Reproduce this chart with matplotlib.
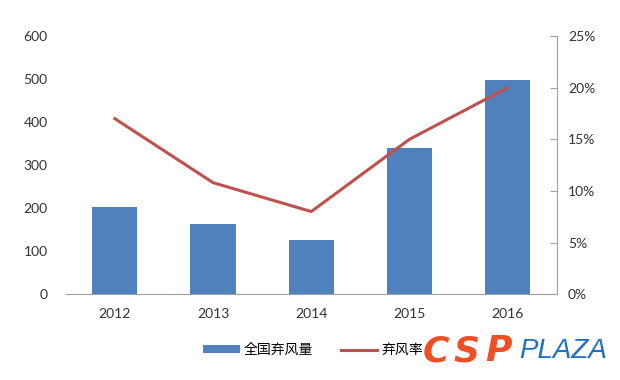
import matplotlib
matplotlib.use('Agg')
import matplotlib.pyplot as plt
from matplotlib.ticker import PercentFormatter

plt.rcParams['font.family'] = ['Lato', 'Noto Sans CJK SC', 'DejaVu Sans']

years = ['2012', '2013', '2014', '2015', '2016']
curtailment = [202, 163, 126, 340, 498]          # 全国弃风量
curtailment_rate = [17.0, 10.8, 8.0, 15.0, 20.0]  # 弃风率 (%)

fig = plt.figure(figsize=(6.2, 3.8), dpi=100)
ax = fig.add_axes([0.106, 0.226, 0.792, 0.679])
x = range(len(years))

bars = ax.bar(x, curtailment, width=0.46, color='#4F81BD', label='全国弃风量', zorder=2)
ax.set_xlim(-0.5, len(years) - 0.5)
ax.set_ylim(0, 600)
ax.set_yticks(range(0, 601, 100))
ax.set_xticks(list(x))
ax.set_xticklabels(years)
for s in ['top', 'left', 'right']:
    ax.spines[s].set_visible(False)
ax.spines['bottom'].set_color('#A0A0A0')
ax.tick_params(axis='both', length=0, labelsize=10, colors='#333333')
ax.tick_params(axis='y', pad=13)
ax.tick_params(axis='x', pad=10)

ax2 = ax.twinx()
line, = ax2.plot(x, curtailment_rate, color='#C0504D', linewidth=2.2, label='弃风率', zorder=3)
ax2.set_ylim(0, 25)
ax2.set_yticks(range(0, 26, 5))
ax2.yaxis.set_major_formatter(PercentFormatter(decimals=0))
for s in ['top', 'left', 'bottom']:
    ax2.spines[s].set_visible(False)
ax2.spines['right'].set_color('#A0A0A0')
ax2.tick_params(axis='y', direction='in', length=5, color='#A0A0A0',
                labelsize=10, labelcolor='#333333', pad=8)

fig.legend([bars, line], ['全国弃风量', '弃风率'], loc='center',
           bbox_to_anchor=(0.505, 0.079), ncol=2, frameon=False,
           prop={'family': ['Noto Sans CJK SC'], 'size': 10},
           handlelength=2.6, handleheight=0.5, columnspacing=2.0,
           handletextpad=0.3)

# watermark
for i, ch in enumerate('CSP'):
    fig.text(0.682 + i * 0.05, 0.076, ch, color='#F04E23', fontsize=26,
             fontweight='heavy', style='italic', va='center', family='DejaVu Sans')
fig.text(0.838, 0.076, 'PLAZA', color='#1F6FC5', fontsize=20,
         style='italic', va='center', family='Liberation Sans')

fig.savefig('out.png', dpi=100)
